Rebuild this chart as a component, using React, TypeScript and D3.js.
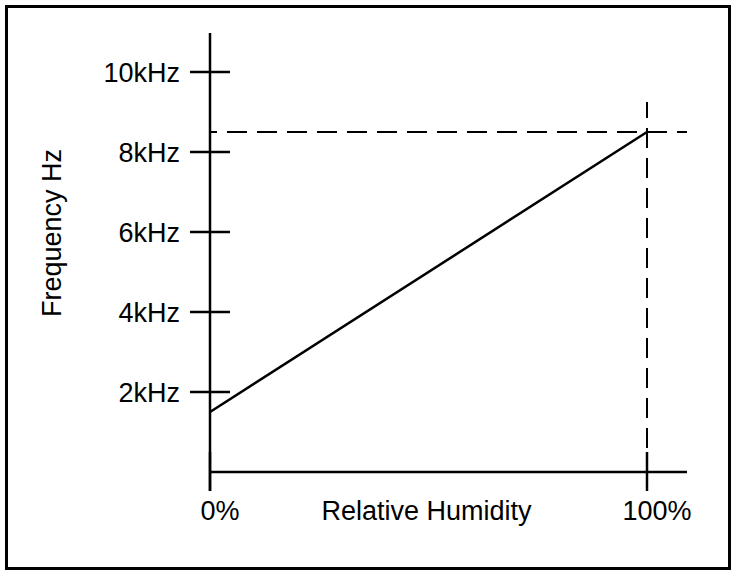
import React, { useEffect, useRef } from 'react';
import * as d3 from 'd3';

// Humidity (%) and frequency (Hz) at the two ends of the sensor line
const humidity = [0, 100];
const frequency = [1500, 8500];

// Axis ticks
const yTicks = [2000, 4000, 6000, 8000, 10000];
const yTickLabels = ['2kHz', '4kHz', '6kHz', '8kHz', '10kHz'];
const xTicks = [0, 100];
const xTickLabels = ['0%', '100%'];

const App = () => {
    const svgRef = useRef<SVGSVGElement>(null);

    useEffect(() => {
        const width = 736;
        const height = 575;
        const font = 'Liberation Sans, Arial, sans-serif';

        const svg = d3.select(svgRef.current)
            .attr('width', width)
            .attr('height', height);
        svg.selectAll('*').remove();

        // Frame round the whole picture
        svg.append('rect')
            .attr('x', 6.5)
            .attr('y', 6.5)
            .attr('width', 723)
            .attr('height', 562)
            .attr('fill', 'white')
            .attr('stroke', 'black')
            .attr('stroke-width', 3);

        const x = d3.scaleLinear().domain([0, 100]).range([210, 647]);
        const y = d3.scaleLinear().domain([0, 10000]).range([472, 72]);

        const g = svg.append('g');

        // Y axis line (runs a bit past both ends)
        g.append('line')
            .attr('x1', x(0)).attr('x2', x(0))
            .attr('y1', 33).attr('y2', y(0) + 19)
            .attr('stroke', 'black')
            .attr('stroke-width', 2.5);

        // X axis line
        g.append('line')
            .attr('x1', x(0)).attr('x2', 687)
            .attr('y1', y(0)).attr('y2', y(0))
            .attr('stroke', 'black')
            .attr('stroke-width', 2.5);

        // Y ticks cross the axis
        g.selectAll('line.ytick')
            .data(yTicks)
            .enter()
            .append('line')
            .attr('class', 'ytick')
            .attr('x1', x(0) - 20).attr('x2', x(0) + 20)
            .attr('y1', d => y(d)).attr('y2', d => y(d))
            .attr('stroke', 'black')
            .attr('stroke-width', 2.5);

        g.selectAll('text.ylab')
            .data(yTicks)
            .enter()
            .append('text')
            .attr('class', 'ylab')
            .attr('x', x(0) - 30)
            .attr('y', d => y(d) + 9.5)
            .attr('text-anchor', 'end')
            .style('font-family', font)
            .style('font-size', '27px')
            .text((d, i) => yTickLabels[i]);

        // X ticks
        g.selectAll('line.xtick')
            .data(xTicks)
            .enter()
            .append('line')
            .attr('class', 'xtick')
            .attr('x1', d => x(d)).attr('x2', d => x(d))
            .attr('y1', y(0) - 20).attr('y2', y(0) + 19)
            .attr('stroke', 'black')
            .attr('stroke-width', 2.5);

        g.selectAll('text.xlab')
            .data(xTicks)
            .enter()
            .append('text')
            .attr('class', 'xlab')
            .attr('x', d => x(d) + 10)
            .attr('y', 520)
            .attr('text-anchor', 'middle')
            .style('font-family', font)
            .style('font-size', '27px')
            .text((d, i) => xTickLabels[i]);

        // Axis titles
        g.append('text')
            .attr('x', (x(0) + x(100)) / 2 - 2)
            .attr('y', 520)
            .attr('text-anchor', 'middle')
            .style('font-family', font)
            .style('font-size', '27px')
            .text('Relative Humidity');

        g.append('text')
            .attr('text-anchor', 'middle')
            .attr('transform', 'translate(61,233)rotate(-90)')
            .style('font-family', font)
            .style('font-size', '27px')
            .text('Frequency Hz');

        // Dashed guides to the 100% point
        const top = frequency[1];
        g.append('line')
            .attr('x1', 687).attr('x2', x(0))
            .attr('y1', y(top)).attr('y2', y(top))
            .attr('stroke', 'black')
            .attr('stroke-width', 2)
            .attr('stroke-dasharray', '20,10')
            .attr('stroke-dashoffset', 10);

        g.append('line')
            .attr('x1', x(100)).attr('x2', x(100))
            .attr('y1', 102).attr('y2', y(0) - 20)
            .attr('stroke', 'black')
            .attr('stroke-width', 2)
            .attr('stroke-dasharray', '20,10')
            .attr('stroke-dashoffset', 4);

        // The response line
        const line = d3.line<number>()
            .x((d, i) => x(humidity[i]))
            .y(d => y(d));

        g.append('path')
            .datum(frequency)
            .attr('d', line)
            .attr('fill', 'none')
            .attr('stroke', 'black')
            .attr('stroke-width', 2.5);
    }, []);

    return (
        <div style={{ position: 'absolute', left: 0, top: 0 }}>
            <svg ref={svgRef} style={{ display: 'block' }}></svg>
        </div>
    );
};

export default App;
